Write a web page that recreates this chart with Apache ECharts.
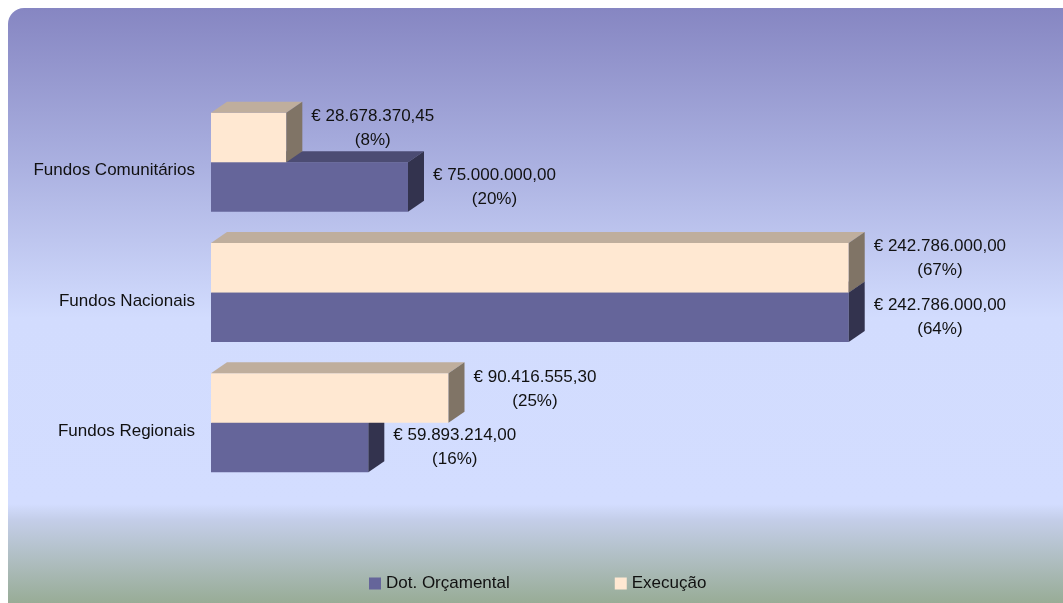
<!DOCTYPE html>
<html>
<head>
<meta charset="utf-8">
<title>Fundos – Dotação e Execução</title>
<script src="https://cdn.jsdelivr.net/npm/echarts@6/dist/echarts.min.js"></script>
<style>
  html, body { margin: 0; padding: 0; background: #ffffff; }
  #chart { width: 1063px; height: 603px; }
</style>
</head>
<body>
<div id="chart"></div>
<script>
// Categories (top to bottom) and the two series, in euros
const categories = ['Fundos Comunitários', 'Fundos Nacionais', 'Fundos Regionais'];
const dotValues  = [75000000.00, 242786000.00, 59893214.00];
const execValues = [28678370.45, 242786000.00, 90416555.30];
const seriesNames = ['Dot. Orçamental', 'Execução'];

const FONT_FAMILY = '"Liberation Sans", Arial, Helvetica, sans-serif';
const FONT_SIZE = 17;
const FONT = FONT_SIZE + 'px ' + FONT_FAMILY;

// Face colours for the pseudo-3D blocks
const dotColors  = { front: '#65659A', top: '#4C4C73', side: '#33334E' };
const execColors = { front: '#FFE8D2', top: '#BFAE9D', side: '#807466' };

const DEPTH_X = 16, DEPTH_Y = -11;

function euro(v) {
  const parts = v.toFixed(2).split('.');
  return '€ ' + parts[0].replace(/\B(?=(\d{3})+(?!\d))/g, '.') + ',' + parts[1];
}
function sum(a) { return a.reduce((s, x) => s + x, 0); }

const measureCtx = document.createElement('canvas').getContext('2d');
measureCtx.font = FONT;
function textWidth(lines) {
  return Math.max.apply(null, lines.map(l => measureCtx.measureText(l).width));
}

// Builds a renderItem for one series; 'above' places the block above the category line
function makeRenderer(values, colors, above, labelShift) {
  const total = sum(values);
  return function (params, api) {
    const ci = api.value(1);
    const v = api.value(0);
    const p0 = api.coord([0, ci]);
    const p1 = api.coord([v, ci]);
    const band = api.size([0, 1])[1];
    const h = band * 0.38;
    const x0 = p0[0], x1 = p1[0];
    const y0 = above ? p0[1] - h : p0[1];
    const lines = [euro(v), '(' + Math.round(v / total * 100) + '%)'];
    const w = textWidth(lines);
    return {
      type: 'group',
      children: [
        { type: 'rect', shape: { x: x0, y: y0, width: x1 - x0, height: h },
          style: { fill: colors.front } },
        { type: 'polygon',
          shape: { points: [[x0, y0], [x0 + DEPTH_X, y0 + DEPTH_Y], [x1 + DEPTH_X, y0 + DEPTH_Y], [x1, y0]] },
          style: { fill: colors.top } },
        { type: 'polygon',
          shape: { points: [[x1, y0], [x1 + DEPTH_X, y0 + DEPTH_Y], [x1 + DEPTH_X, y0 + h + DEPTH_Y], [x1, y0 + h]] },
          style: { fill: colors.side } },
        { type: 'text',
          style: {
            text: lines.join('\n'),
            x: x1 + DEPTH_X + 9 + w / 2,
            y: y0 + h / 2 + labelShift,
            align: 'center',
            verticalAlign: 'middle',
            font: FONT,
            lineHeight: 24,
            fill: '#111111'
          } }
      ]
    };
  };
}

const chart = echarts.init(document.getElementById('chart'), null, { renderer: 'canvas' });

chart.setOption({
  animation: false,
  backgroundColor: '#ffffff',
  graphic: [{
    type: 'rect',
    z: -10,
    shape: { x: 8, y: 8, width: 1080, height: 620, r: 16 },
    style: {
      fill: new echarts.graphic.LinearGradient(0, 0, 0, 1, [
        { offset: 0.00, color: '#8686C2' },
        { offset: 0.25, color: '#AAB0E0' },
        { offset: 0.50, color: '#D2DCFE' },
        { offset: 0.80, color: '#D3DDFF' },
        { offset: 0.825, color: '#C4CEE9' },
        { offset: 0.96, color: '#98AC96' },
        { offset: 1.00, color: '#98AC96' }
      ])
    }
  }],
  grid: { left: 211, top: 97, width: 788, height: 391, containLabel: false },
  xAxis: { type: 'value', min: 0, max: 300000000, show: false },
  yAxis: {
    type: 'category',
    data: categories,
    inverse: true,
    axisLine: { show: false },
    axisTick: { show: false },
    splitLine: { show: false },
    axisLabel: {
      margin: 16,
      verticalAlign: 'top',
      lineHeight: 17,
      fontFamily: FONT_FAMILY,
      fontSize: FONT_SIZE,
      color: '#111111'
    }
  },
  legend: {
    left: 369,
    top: 575,
    padding: 0,
    icon: 'rect',
    itemWidth: 12,
    itemHeight: 12,
    itemGap: 105,
    textStyle: { fontFamily: FONT_FAMILY, fontSize: FONT_SIZE, color: '#111111' },
    data: [
      { name: seriesNames[0], itemStyle: { color: dotColors.front } },
      { name: seriesNames[1], itemStyle: { color: execColors.front } }
    ]
  },
  series: [
    {
      name: seriesNames[0],
      type: 'custom',
      itemStyle: { color: dotColors.front },
      encode: { x: 0, y: 1 },
      data: dotValues.map((v, i) => [v, i]),
      renderItem: makeRenderer(dotValues, dotColors, false, 0),
      clip: false
    },
    {
      name: seriesNames[1],
      type: 'custom',
      itemStyle: { color: execColors.front },
      encode: { x: 0, y: 1 },
      data: execValues.map((v, i) => [v, i]),
      renderItem: makeRenderer(execValues, execColors, true, -9),
      clip: false
    }
  ]
});
</script>
</body>
</html>
